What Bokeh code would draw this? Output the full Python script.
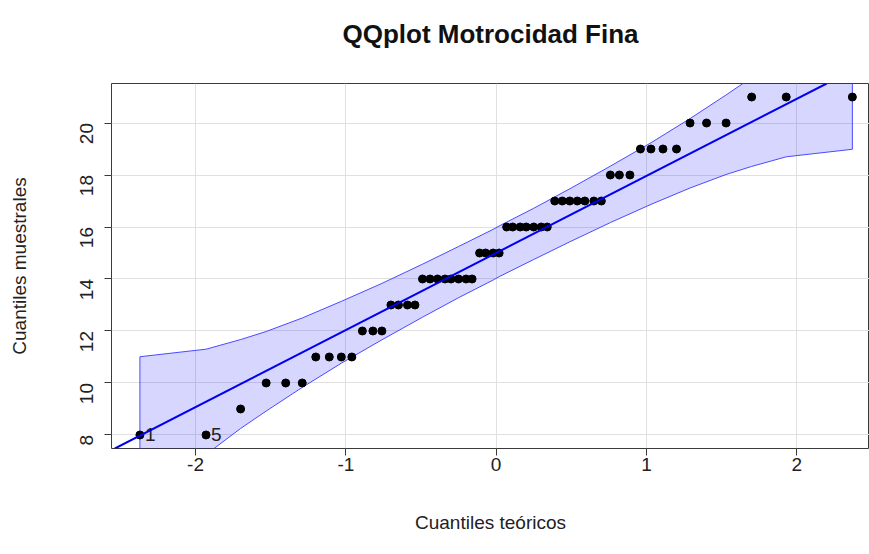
import math
from bokeh.plotting import figure
from bokeh.models import Range1d, FixedTicker, Slope, ColumnDataSource, Title
from bokeh.core.properties import value
from bokeh.embed import file_html
from bokeh.resources import INLINE

# ---- data ----
theoretical = [-2.37, -1.93, -1.70, -1.53, -1.40, -1.29, -1.20, -1.11, -1.03, -0.96,
               -0.89, -0.82, -0.76, -0.70, -0.65, -0.59, -0.54, -0.49, -0.44, -0.39,
               -0.34, -0.30, -0.25, -0.20, -0.16, -0.11, -0.07, -0.02,
               0.02, 0.07, 0.11, 0.16, 0.20, 0.25, 0.30, 0.34, 0.39, 0.44,
               0.49, 0.54, 0.59, 0.65, 0.70, 0.76, 0.82, 0.89, 0.96, 1.03,
               1.11, 1.20, 1.29, 1.40, 1.53, 1.70, 1.93, 2.37]
sample = [8, 8, 9, 10, 10, 10, 11, 11, 11, 11, 12, 12, 12, 13, 13, 13, 13,
          14, 14, 14, 14, 14, 14, 14, 14, 15, 15, 15, 15,
          16, 16, 16, 16, 16, 16, 16, 17, 17, 17, 17, 17, 17, 17,
          18, 18, 18, 19, 19, 19, 19, 20, 20, 20, 21, 21, 21]

band_z = [-2.37, -1.93, -1.70, -1.53, -1.29, -1.03, -0.76, -0.49, -0.25, -0.02,
          0.02, 0.25, 0.49, 0.76, 1.03, 1.29, 1.53, 1.70, 1.93, 2.37]
band_upper = [11.01, 11.30, 11.67, 11.98, 12.50, 13.14, 13.83, 14.57, 15.25, 15.91,
              16.04, 16.72, 17.47, 18.34, 19.24, 20.17, 21.08, 21.75, 22.75, 25.05]
band_lower = [4.95, 7.25, 8.25, 8.92, 9.83, 10.76, 11.66, 12.53, 13.28, 13.96,
              14.09, 14.75, 15.43, 16.17, 16.87, 17.50, 18.02, 18.33, 18.70, 18.99]

line_intercept = 15.0
line_slope = 2.965

label_x = [-2.37, -1.93]
label_y = [8, 8]
label_text = ["1", "5"]

x_ticks = [-2, -1, 0, 1, 2]
x_tick_labels = ["-2", "-1", "0", "1", "2"]
y_ticks = [8, 10, 12, 14, 16, 18, 20]

title = "QQplot Motrocidad Fina"
xlab = "Cuantiles teóricos"
ylab = "Cuantiles muestrales"

FONT = "Liberation Sans"

p = figure(width=869, height=554, output_backend="svg", toolbar_location=None,
           x_range=Range1d(-2.559, 2.484), y_range=Range1d(7.48, 21.52),
           min_border_left=111, min_border_right=0, min_border_top=83,
           min_border_bottom=106, title=title)
p.background_fill_color = "white"
p.border_fill_color = "white"
p.outline_line_color = "#3a3a3a"
p.outline_line_width = 1

p.title.align = "center"
p.title.text_font = FONT
p.title.text_font_size = "26px"
p.title.text_font_style = "bold"
p.title.text_color = "#111111"
p.title.standoff = 10

# empty spacer between the title and the frame
p.add_layout(Title(text=" ", text_font_size="1px", standoff=27), "above")

p.xaxis.ticker = FixedTicker(ticks=x_ticks)
p.xaxis.major_label_overrides = {t: s for t, s in zip(x_ticks, x_tick_labels)}
p.yaxis.ticker = FixedTicker(ticks=y_ticks)
for ax in (p.xaxis, p.yaxis):
    ax.axis_line_color = None
    ax.major_tick_line_color = "#3a3a3a"
    ax.major_tick_out = 7
    ax.major_tick_in = 0
    ax.minor_tick_line_color = None
    ax.major_label_text_font = FONT
    ax.major_label_text_font_size = "19px"
    ax.major_label_text_color = "#222222"
    ax.axis_label_text_font = FONT
    ax.axis_label_text_font_size = "19px"
    ax.axis_label_text_font_style = "normal"
    ax.axis_label_text_color = "#222222"
p.xaxis.axis_label = xlab
p.yaxis.axis_label = ylab
p.xaxis.major_label_standoff = 2
p.xaxis.axis_label_standoff = 38
p.yaxis.major_label_orientation = math.pi / 2
p.yaxis.major_label_standoff = 18
p.yaxis.axis_label_standoff = 41

p.xgrid.ticker = FixedTicker(ticks=x_ticks)
p.ygrid.ticker = FixedTicker(ticks=y_ticks)
p.grid.grid_line_color = "#e0e0e0"
p.grid.grid_line_width = 1

# confidence envelope
patch_x = band_z + band_z[::-1]
patch_y = band_upper + band_lower[::-1]
p.patch(patch_x, patch_y, fill_color="blue", fill_alpha=0.16,
        line_color="#4a4aff", line_width=1)

# reference line
p.add_layout(Slope(gradient=line_slope, y_intercept=line_intercept,
                   line_color="#0000ee", line_width=2))

# points
p.scatter(theoretical, sample, size=8, color="black")

# point labels
src = ColumnDataSource(dict(x=label_x, y=label_y, t=label_text))
p.text(x="x", y="y", text="t", source=src, x_offset=5,
       text_baseline="middle", text_align="left",
       text_font=value(FONT), text_font_size="19px", text_color="#222222")

open("out.html", "w").write(file_html(p, INLINE))
